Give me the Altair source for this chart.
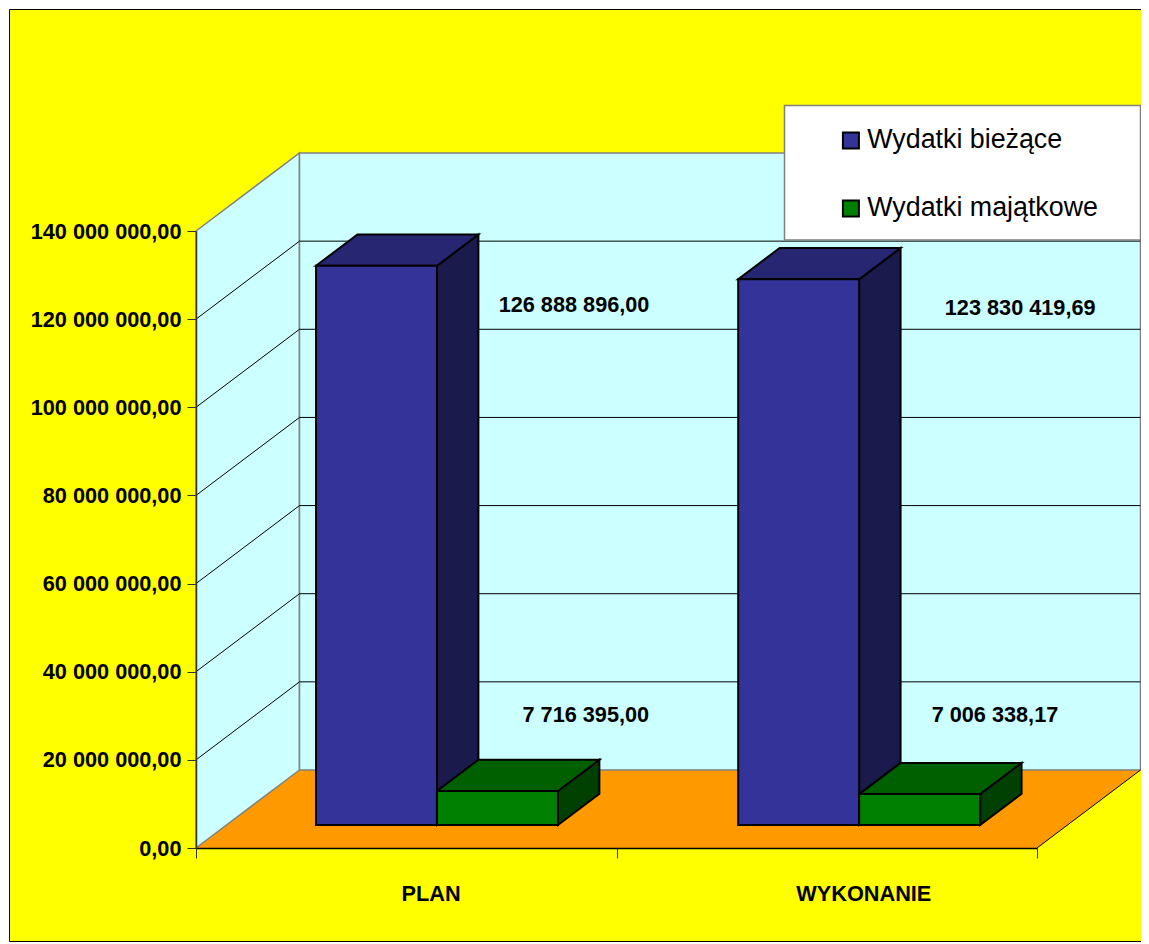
import altair as alt
import pandas as pd

# ---- values ----
categories = ["PLAN", "WYKONANIE"]
series = ["Wydatki bieżące", "Wydatki majątkowe"]
biezace = [126888896.00, 123830419.69]
majatkowe = [7716395.00, 7006338.17]
ticks = [0, 20e6, 40e6, 60e6, 80e6, 100e6, 120e6, 140e6]

# ---- styles ----
FONT = "Liberation Sans"
front = {"Wydatki bieżące": "#333399", "Wydatki majątkowe": "#008000"}
top = {"Wydatki bieżące": "#262673", "Wydatki majątkowe": "#006000"}
side = {"Wydatki bieżące": "#1A1A4D", "Wydatki majątkowe": "#004000"}

# ---- oblique projection (category units / value units) ----
W, H = 841, 617
YMAX = 140e6
DX = 103.5 / (W / 2)      # wall depth in category units
DY = 78 / H * YMAX        # wall depth in value units
D0, D1 = 0.295, 0.695     # depth of a bar's front and back
GAP, BW = 0.2128, 0.2877  # gap and bar width in category units


def px(x, d):
    return x + d * DX


def py(v, d):
    return v + d * DY


fmt = lambda v: f"{v:,.2f}".replace(",", " ").replace(".", ",")

xs = alt.Scale(domain=[0, 2], nice=False, zero=False)
ys = alt.Scale(domain=[0, YMAX], nice=False, zero=False)
x_axis = alt.Axis(
    values=[0, 0.558, 1, 1.587, 2], grid=False, zindex=2,
    labelExpr="datum.value==0.558?'PLAN':datum.value==1.587?'WYKONANIE':''",
    tickOpacity={"condition": {"test": "datum.value==0.558||datum.value==1.587", "value": 0}, "value": 1},
    tickSize=10, tickColor="#333333", domainColor="#000000", domainWidth=1.5,
    labelFont=FONT, labelFontWeight="bold", labelFontSize=21.7, labelColor="#000000",
    labelPadding=25, labelAngle=0,
)
y_axis = alt.Axis(
    values=ticks, grid=False, zindex=2,
    labelExpr="replace(replace(format(datum.value, ',.2f'), /,/g, ' '), '.', ',')",
    tickSize=9, tickColor="#333333", domainColor="#333333", domainWidth=1.5,
    labelFont=FONT, labelFontWeight="bold", labelFontSize=21.7, labelColor="#000000",
    labelPadding=6,
)
X = alt.X("x:Q", scale=xs, axis=x_axis, title=None)
X2 = alt.X2("x2:Q")
Y = alt.Y("y:Q", scale=ys, axis=y_axis, title=None)
Y2 = alt.Y2("y2:Q")
F = alt.Fill("c:N", scale=None, legend=None)


def vface(rows, **kw):
    return alt.Chart(pd.DataFrame(rows)).mark_area(**kw).encode(X, Y, Y2, F, detail="id:N")


def hface(rows, **kw):
    return alt.Chart(pd.DataFrame(rows)).mark_area(orient="horizontal", **kw).encode(X, X2, Y, F, detail="id:N")


one = alt.Data(values=[{"a": 1}])

# page panel
panel = alt.Chart(one).mark_rect(fill="#FFFF00", stroke="#000000", strokeWidth=1).encode(
    x=alt.value(-186.5), x2=alt.value(1010), y=alt.value(-221.5), y2=alt.value(710.5)
)

# floor and walls
floor = hface([
    {"id": 0, "c": "#FF9900", "y": 0, "x": px(0, 0), "x2": px(2, 0)},
    {"id": 0, "c": "#FF9900", "y": py(0, 1), "x": px(0, 1), "x2": px(2, 1)},
])
left_wall = vface([
    {"id": 0, "c": "#CCFFFF", "x": px(0, 0), "y": 0, "y2": YMAX},
    {"id": 0, "c": "#CCFFFF", "x": px(0, 1), "y": py(0, 1), "y2": py(YMAX, 1)},
], stroke="#808080", strokeWidth=1.5)
back_wall = alt.Chart(pd.DataFrame([{
    "c": "#CCFFFF", "x": px(0, 1), "x2": px(2, 1), "y": py(0, 1), "y2": py(YMAX, 1)
}])).mark_rect(stroke="#808080", strokeWidth=1.5).encode(X, X2, Y, Y2, F)

# grid
grid_rows = []
for v in ticks[1:-1]:
    grid_rows.append({"x": px(0, 0), "x2": px(0, 1), "y": v, "y2": py(v, 1)})
    grid_rows.append({"x": px(0, 1), "x2": px(2, 1), "y": py(v, 1), "y2": py(v, 1)})
grid_rows.append({"x": px(2, 0), "x2": px(2, 1), "y": 0, "y2": py(0, 1)})
grid = alt.Chart(pd.DataFrame(grid_rows)).mark_rule(color="#000000", strokeWidth=1).encode(X, X2, Y, Y2)

# legend box
legend_box = alt.Chart(one).mark_rect(fill="#FFFFFF", stroke="#808080", strokeWidth=1.5).encode(
    x=alt.value(588.5), x2=alt.value(944.5), y=alt.value(-125.5), y2=alt.value(9)
)

# bars
bar_layers = []
front_rows = []
for si, (name, vals) in enumerate(zip(series, [biezace, majatkowe])):
    side_rows, top_rows = [], []
    for ci, v in enumerate(vals):
        x0 = ci * 1.004 + GAP + si * BW
        x1 = x0 + BW
        front_rows.append({"s": name, "x": px(x0, D0), "x2": px(x1, D0), "y": py(0, D0), "y2": py(v, D0)})
        side_rows += [
            {"id": ci, "c": side[name], "x": px(x1, D0), "y": py(0, D0), "y2": py(v, D0)},
            {"id": ci, "c": side[name], "x": px(x1, D1), "y": py(0, D1), "y2": py(v, D1)},
        ]
        top_rows += [
            {"id": ci, "c": top[name], "y": py(v, D0), "x": px(x0, D0), "x2": px(x1, D0)},
            {"id": ci, "c": top[name], "y": py(v, D1), "x": px(x0, D1), "x2": px(x1, D1)},
        ]
    bar_layers.append(vface(side_rows, stroke="#000000", strokeWidth=2))
    bar_layers.append(hface(top_rows, stroke="#000000", strokeWidth=2))

fronts = alt.Chart(pd.DataFrame(front_rows)).mark_rect(stroke="#000000", strokeWidth=2).encode(
    X, X2, Y, Y2,
    color=alt.Color("s:N", scale=alt.Scale(domain=series, range=[front[s] for s in series]), legend=alt.Legend(
        orient="none", legendX=641.5, legendY=-104, title=None, zindex=3,
        symbolType="square", symbolSize=256, symbolStrokeColor="#000000", symbolStrokeWidth=2,
        labelFont=FONT, labelFontSize=26.8, labelColor="#000000", labelOffset=3,
        rowPadding=40, labelLimit=300, padding=0,
    )),
)

# data labels (anchor positions on the scales)
label_vals = [biezace[0], biezace[1], majatkowe[0], majatkowe[1]]
label_x = [0.899, 1.960, 0.927, 1.900]
label_y = [123.2e6, 122.5e6, 30.2e6, 30.2e6]
labels = alt.Chart(pd.DataFrame({
    "x": label_x, "y": label_y, "t": [fmt(v) for v in label_vals]
})).mark_text(font=FONT, fontWeight="bold", fontSize=21.7, color="#000000", baseline="middle", align="center").encode(
    X, Y, text="t:N"
)

chart = alt.layer(
    panel, floor, left_wall, back_wall, grid, legend_box, *bar_layers, fronts, labels
).properties(
    width=W, height=H,
    padding={"left": 188, "top": 223, "right": 104, "bottom": 94},
    autosize=alt.AutoSizeParams(type="none"),
    background="#FFFFFF",
).configure_view(stroke=None)

chart.save("out.html", embed_options={"renderer": "svg", "actions": False})
